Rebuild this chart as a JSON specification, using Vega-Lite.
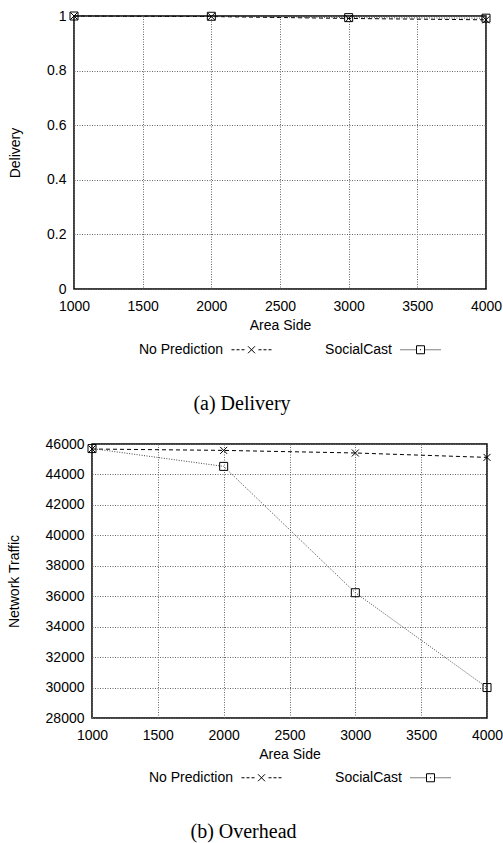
{
  "$schema": "https://vega.github.io/schema/vega-lite/v6.json",
  "background": "white",
  "padding": {"left": 4, "top": 8, "right": 0, "bottom": 0},
  "spacing": 21,
  "datasets": {
    "delivery": [
      {"side": 1000, "series": "No Prediction", "value": 1.0},
      {"side": 2000, "series": "No Prediction", "value": 0.998},
      {"side": 3000, "series": "No Prediction", "value": 0.991},
      {"side": 4000, "series": "No Prediction", "value": 0.986},
      {"side": 1000, "series": "SocialCast", "value": 1.0},
      {"side": 2000, "series": "SocialCast", "value": 0.999},
      {"side": 3000, "series": "SocialCast", "value": 0.994},
      {"side": 4000, "series": "SocialCast", "value": 0.992}
    ],
    "traffic": [
      {"side": 1000, "series": "No Prediction", "value": 45670},
      {"side": 2000, "series": "No Prediction", "value": 45580},
      {"side": 3000, "series": "No Prediction", "value": 45410},
      {"side": 4000, "series": "No Prediction", "value": 45120},
      {"side": 1000, "series": "SocialCast", "value": 45700},
      {"side": 2000, "series": "SocialCast", "value": 44530},
      {"side": 3000, "series": "SocialCast", "value": 36230},
      {"side": 4000, "series": "SocialCast", "value": 30000}
    ],
    "none": []
  },
  "config": {
    "font": "Liberation Sans",
    "view": {"stroke": "#000", "strokeWidth": 1.5},
    "axis": {
      "labelFont": "Liberation Sans",
      "labelFontSize": 14,
      "labelColor": "#000",
      "titleFont": "Liberation Sans",
      "titleFontSize": 14,
      "titleFontWeight": "normal",
      "titleColor": "#000",
      "ticks": false,
      "tickSize": 0,
      "domain": false,
      "grid": true,
      "gridColor": "#666",
      "gridDash": [1, 1.5],
      "gridWidth": 1,
      "labelFlush": false,
      "labelOverlap": false
    },
    "axisX": {"labelPadding": 10, "titlePadding": 5},
    "axisY": {"labelPadding": 8, "titlePadding": 24},
    "legend": {
      "orient": "none",
      "direction": "horizontal",
      "labelFont": "Liberation Sans",
      "labelFontSize": 14,
      "labelColor": "#000",
      "labelAlign": "right",
      "labelOffset": -49,
      "labelLimit": 300,
      "columnPadding": 51,
      "symbolSize": 1600,
      "symbolStrokeWidth": 1,
      "symbolStrokeColor": "#000"
    },
    "title": {
      "font": "Liberation Serif",
      "fontSize": 20,
      "fontWeight": "normal",
      "color": "#000",
      "orient": "bottom",
      "anchor": "middle"
    }
  },
  "vconcat": [
    {
      "spacing": 0,
      "hconcat": [
        {
          "width": 2.5,
          "height": 1,
          "view": {"stroke": null},
          "data": {"name": "none"},
          "mark": "point"
        },
        {
          "width": 412,
          "height": 273,
          "title": {"text": "(a)  Delivery", "dx": -38, "offset": 37},
          "data": {"name": "delivery"},
          "encoding": {
            "x": {"field": "side", "type": "quantitative", "title": "Area Side",
                  "scale": {"domain": [1000, 4000], "nice": false, "zero": false},
                  "axis": {"values": [1000, 1500, 2000, 2500, 3000, 3500, 4000], "format": "d"}},
            "y": {"field": "value", "type": "quantitative", "title": "Delivery",
                  "scale": {"domain": [0, 1], "nice": false},
                  "axis": {"values": [0, 0.2, 0.4, 0.6, 0.8, 1], "format": "~g"}}
          },
          "layer": [
            {
              "mark": {"type": "line", "strokeWidth": 1},
              "encoding": {
                "color": {"field": "series", "type": "nominal", "legend": null,
                          "scale": {"domain": ["No Prediction", "SocialCast"], "range": ["#000", "#444"]}},
                "strokeDash": {"field": "series", "type": "nominal", "legend": null,
                               "scale": {"domain": ["No Prediction", "SocialCast"], "range": [[4, 3], [1, 1.5]]}}
              }
            },
            {
              "mark": {"type": "point", "filled": false, "size": 64, "strokeWidth": 1, "color": "#000", "opacity": 1},
              "encoding": {
                "shape": {"field": "series", "type": "nominal", "legend": null,
                          "scale": {"domain": ["No Prediction", "SocialCast"],
                                    "range": ["M-0.875,-0.875L0.875,0.875M-0.875,0.875L0.875,-0.875", "M-1,-1L1,-1L1,1L-1,1Z"]}}
              }
            },
            {
              "data": {"name": "none"},
              "mark": {"type": "point", "filled": false, "strokeWidth": 1, "color": "#000", "opacity": 1},
              "encoding": {
                "x": {"field": "side", "type": "quantitative"},
                "y": {"field": "value", "type": "quantitative"},
                "shape": {"field": "series", "type": "nominal",
                          "scale": {"domain": ["No Prediction", "SocialCast"],
                                    "range": [
                                      "M-1,0L-0.85,0M-0.75,0L-0.6,0M-0.5,0L-0.35,0M-0.175,-0.175L0.175,0.175M-0.175,0.175L0.175,-0.175M0.35,0L0.5,0M0.6,0L0.75,0M0.85,0L1,0",
                                      "M-1,0L-0.95,0M-0.9,0L-0.85,0M-0.8,0L-0.75,0M-0.7,0L-0.65,0M-0.6,0L-0.55,0M-0.5,0L-0.45,0M-0.4,0L-0.35,0M-0.3,0L-0.25,0M-0.2,-0.2L0.2,-0.2L0.2,0.2L-0.2,0.2ZM-0.025,0L0.025,0M0.25,0L0.3,0M0.35,0L0.4,0M0.45,0L0.5,0M0.55,0L0.6,0M0.65,0L0.7,0M0.75,0L0.8,0M0.85,0L0.9,0M0.95,0L1,0"
                                    ]},
                          "legend": {"title": null, "legendX": 157, "legendY": 313}}
              }
            }
          ],
          "resolve": {"scale": {"shape": "independent"}}
        }
      ]
    },
    {
      "spacing": 0,
      "hconcat": [
        {
          "width": 2,
          "height": 1,
          "view": {"stroke": null},
          "data": {"name": "none"},
          "mark": "point"
        },
        {
          "width": 395,
          "height": 274,
          "title": {"text": "(b)  Overhead", "dx": -46, "offset": 37},
          "data": {"name": "traffic"},
          "encoding": {
            "x": {"field": "side", "type": "quantitative", "title": "Area Side",
                  "scale": {"domain": [1000, 4000], "nice": false, "zero": false},
                  "axis": {"values": [1000, 1500, 2000, 2500, 3000, 3500, 4000], "format": "d"}},
            "y": {"field": "value", "type": "quantitative", "title": "Network Traffic",
                  "scale": {"domain": [28000, 46000], "nice": false, "zero": false},
                  "axis": {"values": [28000, 30000, 32000, 34000, 36000, 38000, 40000, 42000, 44000, 46000], "format": "d"}}
          },
          "layer": [
            {
              "mark": {"type": "line", "strokeWidth": 1},
              "encoding": {
                "color": {"field": "series", "type": "nominal", "legend": null,
                          "scale": {"domain": ["No Prediction", "SocialCast"], "range": ["#000", "#444"]}},
                "strokeDash": {"field": "series", "type": "nominal", "legend": null,
                               "scale": {"domain": ["No Prediction", "SocialCast"], "range": [[4, 3], [1, 1.5]]}}
              }
            },
            {
              "mark": {"type": "point", "filled": false, "size": 64, "strokeWidth": 1, "color": "#000", "opacity": 1},
              "encoding": {
                "shape": {"field": "series", "type": "nominal", "legend": null,
                          "scale": {"domain": ["No Prediction", "SocialCast"],
                                    "range": ["M-0.875,-0.875L0.875,0.875M-0.875,0.875L0.875,-0.875", "M-1,-1L1,-1L1,1L-1,1Z"]}}
              }
            },
            {
              "data": {"name": "none"},
              "mark": {"type": "point", "filled": false, "strokeWidth": 1, "color": "#000", "opacity": 1},
              "encoding": {
                "x": {"field": "side", "type": "quantitative"},
                "y": {"field": "value", "type": "quantitative"},
                "shape": {"field": "series", "type": "nominal",
                          "scale": {"domain": ["No Prediction", "SocialCast"],
                                    "range": [
                                      "M-1,0L-0.85,0M-0.75,0L-0.6,0M-0.5,0L-0.35,0M-0.175,-0.175L0.175,0.175M-0.175,0.175L0.175,-0.175M0.35,0L0.5,0M0.6,0L0.75,0M0.85,0L1,0",
                                      "M-1,0L-0.95,0M-0.9,0L-0.85,0M-0.8,0L-0.75,0M-0.7,0L-0.65,0M-0.6,0L-0.55,0M-0.5,0L-0.45,0M-0.4,0L-0.35,0M-0.3,0L-0.25,0M-0.2,-0.2L0.2,-0.2L0.2,0.2L-0.2,0.2ZM-0.025,0L0.025,0M0.25,0L0.3,0M0.35,0L0.4,0M0.45,0L0.5,0M0.55,0L0.6,0M0.65,0L0.7,0M0.75,0L0.8,0M0.85,0L0.9,0M0.95,0L1,0"
                                    ]},
                          "legend": {"title": null, "legendX": 149, "legendY": 313}}
              }
            }
          ],
          "resolve": {"scale": {"shape": "independent"}}
        }
      ]
    }
  ]
}
